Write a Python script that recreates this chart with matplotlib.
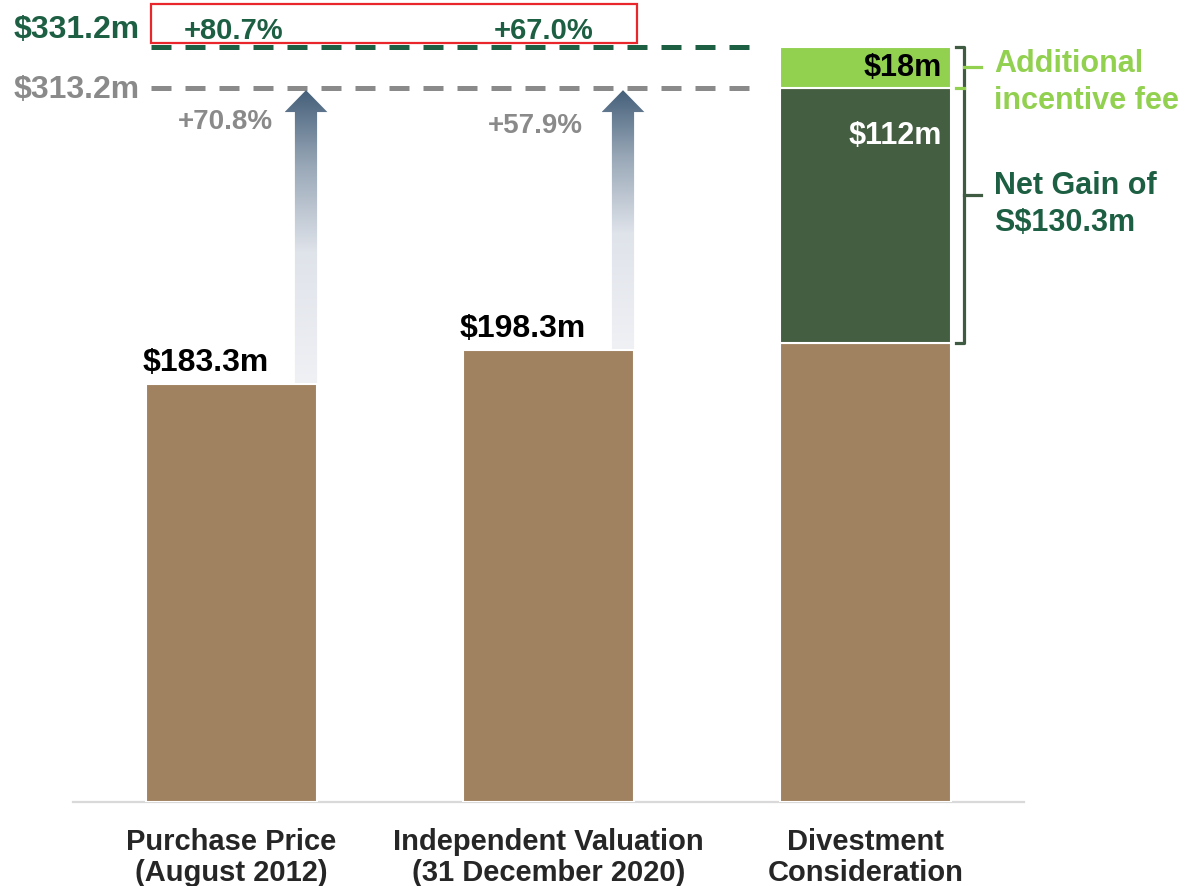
import numpy as np
import matplotlib
matplotlib.use('Agg')
import matplotlib.pyplot as plt
from matplotlib.patches import Polygon, Rectangle
from matplotlib.colors import LinearSegmentedColormap

plt.rcParams['font.family'] = ['Liberation Sans', 'DejaVu Sans']
plt.rcParams['font.weight'] = 'bold'

# данные
categories = ['Purchase Price\n(August 2012)',
              'Independent Valuation\n(31 December 2020)',
              'Divestment\nConsideration']
base_values = [183.3, 198.3, 201.2]
net_gain = 112
incentive_fee = 18
total_consideration = 331.2
total_net = 313.2
pct_total = ['+80.7%', '+67.0%']
pct_net = ['+70.8%', '+57.9%']

BROWN = '#a08260'
DARK = '#445e41'
LIGHT = '#92d050'
GREEN_TXT = '#1d5f43'
GRAY = '#8a8a8a'

fig = plt.figure(figsize=(11.9, 8.87), dpi=100)
ax = fig.add_axes([73 / 1190, 84 / 887, (1024 - 73) / 1190, 803 / 887])

x = np.arange(len(categories))
w = 0.54
ax.bar(x, base_values, width=w, color=BROWN, edgecolor='white', linewidth=1.5, zorder=3)
ax.bar(x[2], net_gain, bottom=base_values[2], width=w, color=DARK,
       edgecolor='white', linewidth=1.5, zorder=3)
ax.bar(x[2], incentive_fee, bottom=base_values[2] + net_gain, width=w, color=LIGHT,
       edgecolor='white', linewidth=1.5, zorder=3)

ax.set_xlim(-0.5, 2.5)
ax.set_ylim(0, 803 / 2.28)

# пунктирные линии
ax.hlines(total_consideration, -0.255, 1.675, color=GREEN_TXT, lw=3.6,
          linestyles=(0, (4, 2.8)), zorder=2)
ax.hlines(total_net, -0.255, 1.675, color=GRAY, lw=3.6,
          linestyles=(0, (4, 2.8)), zorder=2)

ax.annotate('$331.2m', (-0.29, total_consideration), xytext=(0, 13), textcoords='offset points',
            ha='right', va='center', fontsize=23, color=GREEN_TXT)
ax.annotate('$313.2m', (-0.29, total_net), xytext=(0, -1), textcoords='offset points',
            ha='right', va='center', fontsize=23, color=GRAY)

# красная рамка с процентами
ax.add_patch(Rectangle((-0.254, total_consideration + 1.5), 1.532, 17.2, fill=False,
                       edgecolor='#e8262b', lw=1.6, zorder=4, clip_on=False))
for xi, t in zip([0.005, 0.985], pct_total):
    ax.annotate(t, (xi, total_consideration), xytext=(0, 12), textcoords='offset points',
                ha='center', va='center', fontsize=21, color=GREEN_TXT)
for xi, dy, t in zip([-0.02, 0.96], [-24, -27], pct_net):
    ax.annotate(t, (xi, total_net), xytext=(0, dy), textcoords='offset points',
                ha='center', va='center', fontsize=20, color=GRAY)

# стрелки с градиентом
cmap = LinearSegmentedColormap.from_list('arr', [(0, '#f0f1f5'), (0.45, '#dfe3ea'),
                                                 (0.75, '#97a6b6'), (1, '#45607a')])
grad = np.linspace(0, 1, 256).reshape(-1, 1)
for i in range(2):
    right = x[i] + w / 2
    sw, hw, hl = 0.07, 0.135, 9.6
    cx = right - sw / 2
    y0 = base_values[i]
    tip = total_net - 1
    verts = [(cx - sw / 2, y0), (cx + sw / 2, y0), (cx + sw / 2, tip - hl),
             (cx + hw / 2, tip - hl), (cx, tip), (cx - hw / 2, tip - hl),
             (cx - sw / 2, tip - hl)]
    poly = Polygon(verts, closed=True, facecolor='none', edgecolor='none')
    ax.add_patch(poly)
    im = ax.imshow(grad, cmap=cmap, origin='lower', aspect='auto',
                   extent=[cx - hw / 2, cx + hw / 2, y0, tip], zorder=2)
    im.set_clip_path(poly)

ax.set_xlim(-0.5, 2.5)
ax.set_ylim(0, 803 / 2.28)

# подписи значений
for i in range(2):
    ax.annotate(f'${base_values[i]}m', (x[i] - w / 2 - 0.01, base_values[i]),
                xytext=(0, 16), textcoords='offset points',
                ha='left', va='center', fontsize=23, color='black')
ax.annotate(f'${incentive_fee}m', (x[2] + w / 2 - 0.03, base_values[2] + net_gain + incentive_fee / 2),
            ha='right', va='center', fontsize=22, color='black', zorder=5)
ax.annotate(f'${net_gain}m', (x[2] + w / 2 - 0.03, base_values[2] + net_gain),
            xytext=(0, -34), textcoords='offset points',
            ha='right', va='center', fontsize=22, color='white', zorder=5)

# скобки
top = total_consideration
bot = base_values[2]
mid = (top + bot) / 2
bx = 2.311
ax.plot([2.286, bx, bx, 2.286], [top, top, bot, bot], color='#3f5b41', lw=2.3,
        solid_joinstyle='round', clip_on=False)
ax.plot([bx, 2.364], [mid, mid], color='#3f5b41', lw=2.3, clip_on=False)
lmid = top - incentive_fee / 2
ax.plot([bx, 2.364], [lmid, lmid], color=LIGHT, lw=2.3, clip_on=False)
ax.plot([2.286, bx], [top - incentive_fee, top - incentive_fee], color=LIGHT, lw=2.3, clip_on=False)

ax.annotate('Additional\nincentive fee', (2.406, lmid), xytext=(0, -10), textcoords='offset points',
            ha='left', va='center', fontsize=22, color=LIGHT, linespacing=1.3,
            annotation_clip=False)
ax.annotate('Net Gain of\nS$130.3m', (2.406, mid), xytext=(0, -6), textcoords='offset points',
            ha='left', va='center', fontsize=22, color=GREEN_TXT, linespacing=1.3,
            annotation_clip=False)

ax.set_xticks(x)
ax.set_xticklabels(categories, fontsize=21, color='#262626', linespacing=1.15)
ax.tick_params(axis='x', length=0, pad=18)
ax.set_yticks([])
for s in ['top', 'left', 'right']:
    ax.spines[s].set_visible(False)
ax.spines['bottom'].set_color('#d9d9d9')
ax.spines['bottom'].set_linewidth(1.6)

fig.savefig('out.png', dpi=100)
